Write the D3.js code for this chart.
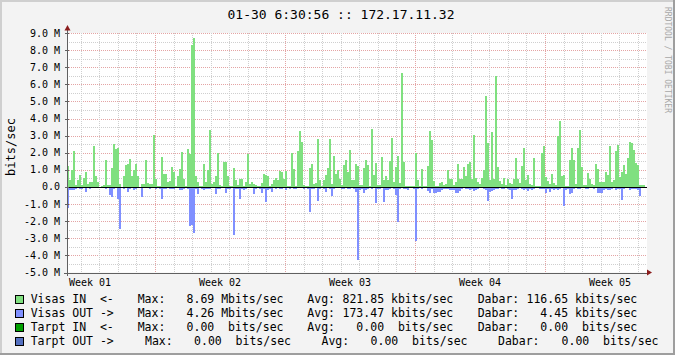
<!DOCTYPE html>
<html><head><meta charset="utf-8">
<script src="https://cdn.jsdelivr.net/npm/d3@7"></script>
<style>
html,body{margin:0;padding:0;background:#f3f3f3;overflow:hidden;}
text{font-family:"DejaVu Sans Mono",monospace;white-space:pre;}
</style></head><body>
<svg id="c" width="675" height="355"></svg>
<script>
// ---- data (Mbits/sec), one sample per 7/65 day ----
const visasIn = [1.2,0.43,1.0,2.1,0.1,0.43,0.72,0.1,0.5,0.85,
0.2,0.27,0.27,2.4,0.66,0.3,0.02,0.05,0.1,1.55,
0.1,0.1,1.13,2.5,2.2,2.25,0.2,0.02,0.62,1.3,
1.37,1.64,0.62,1.0,1.37,0.66,0.02,0.2,0.2,1.55,
0.23,0.2,0.2,3.06,0.47,0.03,0.03,1.73,0.78,0.78,
0.3,0.33,1.19,0.86,0.03,0.62,1.07,2.07,0.49,0.03,
2.24,1.9,8.32,8.69,0.66,0.3,0.03,0.03,1.33,0.3,
1.0,3.35,0.2,0.3,0.66,2.0,0.1,0.05,1.46,1.46,
0.66,0.03,0.03,1.13,0.43,0.14,0.49,0.45,0.05,0.3,
1.95,0.16,0.3,0.2,0.1,0.03,0.03,0.23,0.78,0.7,
0.62,0.03,0.2,0.43,0.52,0.4,0.95,0.86,0.47,0.95,
0.03,0.03,2.0,1.07,0.08,2.12,3.3,2.63,0.14,0.03,
0.03,1.13,1.37,0.16,0.23,2.83,0.43,0.03,0.4,0.72,
1.13,2.83,0.2,1.8,0.78,1.0,0.49,0.12,1.3,1.6,
0.86,2.18,0.43,0.43,1.37,1.25,0.1,0.14,1.11,1.55,
1.3,0.08,3.39,0.7,1.4,0.1,0.1,1.75,0.43,0.66,
0.43,1.52,2.88,0.29,1.15,1.83,0.25,6.67,1.48,0.03,
0.03,0.03,0.03,0.03,2.0,0.43,0.03,1.07,0.08,0.03,
1.2,3.3,2.77,0.33,0.03,0.03,0.23,0.3,0.1,0.2,
1.0,0.47,0.49,0.1,0.3,1.37,0.49,0.49,1.19,0.66,
1.37,1.46,0.49,3.06,0.55,0.27,0.2,0.55,0.97,5.34,
2.57,0.43,3.2,0.49,6.5,1.19,0.33,0.16,0.55,0.1,
0.47,0.23,0.2,0.49,1.72,0.47,0.23,1.25,2.3,0.43,
0.72,0.2,0.1,1.72,0.03,0.03,0.03,2.0,2.42,0.58,
0.35,0.18,0.78,0.23,0.1,2.96,3.84,0.66,0.68,0.03,
0.03,1.6,2.3,1.6,0.16,2.26,3.35,1.19,0.1,0.1,
0.84,0.47,0.2,0.14,1.33,1.07,0.27,0.29,0.29,0.86,
0.72,2.38,0.3,0.43,2.12,2.44,0.58,0.9,1.29,0.74,
1.68,2.65,2.57,2.18,1.4,1.29,0.1,0.1,0.1,0];

const visasOut = [1.23,0.2,0.15,0.15,0.1,0.08,0.1,0.12,0.03,0.3,
0.05,0.1,0.08,0.08,0.05,0.03,0.07,0.05,0.03,0.12,
0.03,0.45,0.58,0.12,0.08,0.68,2.45,0.08,0.1,0.08,
0.27,0.1,0.05,0.15,0.12,0.05,0.03,0.6,0.08,0.05,
0.08,0.1,0.05,0.08,0.1,0.05,0.1,0.7,0.12,0.1,
0.08,0.1,0.12,0.1,0.05,0.08,0.2,0.2,0.1,0.08,
0.12,2.26,2.2,2.69,0.1,0.41,0.05,0.1,0.15,0.12,
0.1,0.12,0.05,0.08,0.41,0.1,0.12,0.05,0.08,0.35,
0.1,0.12,0.05,2.83,0.1,0.1,0.7,0.1,0.15,0.12,
0.05,0.08,0.05,0.39,0.1,0.08,0.12,0.35,0.1,0.86,
0.18,0.1,0.3,0.08,0.1,0.05,0.1,0.12,0.05,0.2,
0.08,0.1,0.08,0.12,0.1,0.05,0.03,0.08,0.1,0.05,
0.12,1.46,0.1,0.1,0.08,0.8,0.1,0.08,0.1,0.3,
0.08,0.1,0.5,0.1,0.08,0.05,0.08,0.1,0.12,0.08,
0.1,0.12,0.05,0.1,0.29,4.26,0.2,0.1,0.35,0.2,
0.1,0.08,0.1,0.05,0.94,0.1,0.12,0.08,0.88,0.2,
0.2,0.1,0.08,0.1,0.45,2.06,0.1,0.08,0.12,0.1,
0.15,0.08,0.05,0.1,3.15,0.1,0.08,0.1,0.05,0.08,
0.25,0.35,0.12,0.35,0.35,0.3,0.3,0.2,0.1,0.1,
0.12,0.15,0.2,0.2,0.35,0.35,0.25,0.1,0.08,0.1,
0.12,0.15,0.1,0.25,0.15,0.12,0.08,0.05,0.1,0.2,
0.82,0.29,0.25,0.15,0.1,0.1,0.08,0.12,0.1,0.05,
0.1,0.2,0.7,0.15,0.15,0.1,0.08,0.1,0.2,0.1,
0.25,0.1,0.2,0.1,0.08,0.05,0.1,0.12,0.1,0.35,
0.12,0.3,0.1,0.15,0.1,0.2,0.1,0.08,1.12,0.2,
0.1,0.39,0.35,0.1,0.08,0.1,0.12,0.05,0.08,0.1,
0.12,0.05,0.08,0.1,0.05,0.33,0.35,0.35,0.2,0.1,
0.15,0.15,0.1,0.08,0.2,0.1,0.12,0.78,0.1,0.05,
0.08,0.15,0.1,0.12,0.1,0.2,0.55,0.05,0.03,0];

const sampleStep = 7 / 65;          // days per sample
const startDay = 21 * sampleStep;    // days after start of Week 01
const weekLabels = ["Week 01", "Week 02", "Week 03", "Week 04", "Week 05"];
const yTicks = [-5, -4, -3, -2, -1, 0, 1, 2, 3, 4, 5, 6, 7, 8, 9];
const titleText = "01-30 6:30:56 :: 172.17.11.32";
const yAxisTitle = "bits/sec";
const watermark = "RRDTOOL / TOBI OETIKER";

const legendNames = ["Visas IN  <-", "Visas OUT ->", "Tarpt IN  <-", "Tarpt OUT ->"];
const legendColors = ["#80e080", "#8090ff", "#00a000", "#5470c0"];
const legendMax = ["8.69 Mbits/sec", "4.26 Mbits/sec", "0.00  bits/sec", "0.00  bits/sec"];
const legendAvg = ["821.85 kbits/sec", "173.47 kbits/sec", "0.00  bits/sec", "0.00  bits/sec"];
const legendLast = ["116.65 kbits/sec", "4.45 kbits/sec", "0.00  bits/sec", "0.00  bits/sec"];

// ---- drawing ----
const W = 675, H = 355;
const L = 67, R = 647, T = 33, B = 272.5;
const svg = d3.select("#c");
const endDay = startDay + visasIn.length * sampleStep;
const x = d3.scaleLinear().domain([startDay, endDay]).range([L, R]);
const y = d3.scaleLinear().domain([-5, 9]).range([B, T]);

svg.append("rect").attr("width", W).attr("height", H).attr("fill", "#f3f3f3");
// 3D border
svg.append("rect").attr("x", 0).attr("y", 0).attr("width", W).attr("height", 2).attr("fill", "#cfcfcf");
svg.append("rect").attr("x", 0).attr("y", 0).attr("width", 2).attr("height", H).attr("fill", "#cfcfcf");
svg.append("rect").attr("x", 0).attr("y", H - 2).attr("width", W).attr("height", 2).attr("fill", "#9e9e9e");
svg.append("rect").attr("x", W - 2).attr("y", 0).attr("width", 2).attr("height", H).attr("fill", "#9e9e9e");

// canvas
svg.append("rect").attr("x", L).attr("y", T).attr("width", R - L).attr("height", B - T).attr("fill", "#ffffff");

const grid = svg.append("g").attr("shape-rendering", "crispEdges");
// horizontal minor & major
d3.range(-5, 9.001, 0.5).forEach(v => {
  const major = Math.abs(v - Math.round(v)) < 1e-6;
  const yy = Math.round(y(v)) + 0.5;
  grid.append("line").attr("x1", L).attr("x2", R).attr("y1", yy).attr("y2", yy)
    .attr("stroke", major ? "#e4a4a4" : "#cfcfcf").attr("stroke-dasharray", "1,1");
});
// vertical: days (minor) and weeks (major)
d3.range(Math.ceil(startDay), Math.floor(endDay) + 1).forEach(d => {
  const major = d % 7 === 0;
  const xx = Math.round(x(d)) + 0.5;
  grid.append("line").attr("x1", xx).attr("x2", xx).attr("y1", T).attr("y2", B)
    .attr("stroke", major ? "#e4a4a4" : "#cfcfcf").attr("stroke-dasharray", "1,1");
});

// bars
const bars = svg.append("g").attr("shape-rendering", "crispEdges");
const t = i => startDay + i * sampleStep;
bars.selectAll("rect.in").data(visasIn).join("rect")
  .attr("x", (d, i) => x(t(i))).attr("width", (d, i) => x(t(i + 1)) - x(t(i)))
  .attr("y", d => y(d)).attr("height", d => y(0) - y(d)).attr("fill", "#80e080");
bars.selectAll("rect.out").data(visasOut).join("rect")
  .attr("x", (d, i) => x(t(i))).attr("width", (d, i) => x(t(i + 1)) - x(t(i)))
  .attr("y", y(0)).attr("height", d => y(-d) - y(0)).attr("fill", "#8090ff");

// zero line
svg.append("line").attr("x1", L).attr("x2", R).attr("y1", Math.round(y(0)) + 0.5).attr("y2", Math.round(y(0)) + 0.5)
  .attr("stroke", "#000").attr("stroke-width", 1).attr("shape-rendering", "crispEdges");

// axes
svg.append("line").attr("x1", L + 0.5).attr("x2", L + 0.5).attr("y1", B + 3).attr("y2", 29)
  .attr("stroke", "#606060").attr("shape-rendering", "crispEdges");
svg.append("line").attr("x1", L - 3).attr("x2", R + 1).attr("y1", Math.round(B) + 0.5).attr("y2", Math.round(B) + 0.5)
  .attr("stroke", "#606060").attr("shape-rendering", "crispEdges");
svg.append("path").attr("d", `M${L - 2.5},30.5 L${L + 3.5},30.5 L${L + 0.5},25 Z`).attr("fill", "#8b1c1c");
svg.append("path").attr("d", `M${R},${B - 3} L${R},${B + 3} L${R + 5},${B} Z`).attr("fill", "#8b1c1c");
// small ticks on y axis at major lines
yTicks.forEach(v => {
  const yy = Math.round(y(v)) + 0.5;
  svg.append("line").attr("x1", L - 2).attr("x2", L + 2).attr("y1", yy).attr("y2", yy)
    .attr("stroke", "#606060").attr("shape-rendering", "crispEdges");
});

// y labels
svg.append("g").selectAll("text").data(yTicks).join("text")
  .attr("x", 60).attr("y", d => y(d) + 3.5).attr("text-anchor", "end")
  .attr("font-size", "10px").attr("fill", "#000")
  .text(d => d === 0 ? "0.0" : d.toFixed(1) + " M");

// week labels
svg.append("g").selectAll("text").data(weekLabels).join("text")
  .attr("x", (d, i) => x(3.5 + 7 * i)).attr("y", 286).attr("text-anchor", "middle")
  .attr("font-size", "10px").attr("fill", "#000").text(d => d);

// title
svg.append("text").attr("x", 341).attr("y", 18.5).attr("text-anchor", "middle")
  .attr("font-size", "13px").attr("fill", "#000").text(titleText);

// y title
svg.append("text").attr("transform", "translate(14.5,147) rotate(-90)").attr("text-anchor", "middle")
  .attr("font-size", "12px").attr("fill", "#000").text(yAxisTitle);

// watermark
svg.append("text").attr("transform", "translate(664.5,60) rotate(90)").attr("text-anchor", "middle")
  .attr("font-size", "8px").attr("fill", "#a8a8a8").text(watermark);

// legend
const rowY = [303, 317, 331, 345];
const colStd = {max: 137.7, maxEnd: 283.5, avg: 307.3, avgEnd: 453.3, last: 477.7, lastEnd: 637.3};
const colRow4 = {max: 145, maxEnd: 291, avg: 321.5, avgEnd: 467.5, last: 498, lastEnd: 658.5};
const lg = svg.append("g").attr("font-size", "11.5px").attr("fill", "#000");
legendNames.forEach((name, i) => {
  const c = i === 3 ? colRow4 : colStd;
  const yy = rowY[i];
  lg.append("rect").attr("x", 15.5).attr("y", yy - 7.5).attr("width", 8).attr("height", 8)
    .attr("fill", legendColors[i]).attr("stroke", "#000").attr("stroke-width", 1).attr("shape-rendering", "crispEdges");
  lg.append("text").attr("x", 30.7).attr("y", yy).text(name);
  lg.append("text").attr("x", c.max).attr("y", yy).text("Max:");
  lg.append("text").attr("x", c.maxEnd).attr("y", yy).attr("text-anchor", "end").text(legendMax[i]);
  lg.append("text").attr("x", c.avg).attr("y", yy).text("Avg:");
  lg.append("text").attr("x", c.avgEnd).attr("y", yy).attr("text-anchor", "end").text(legendAvg[i]);
  lg.append("text").attr("x", c.last).attr("y", yy).text("Dabar:");
  lg.append("text").attr("x", c.lastEnd).attr("y", yy).attr("text-anchor", "end").text(legendLast[i]);
});
</script>
</body></html>
